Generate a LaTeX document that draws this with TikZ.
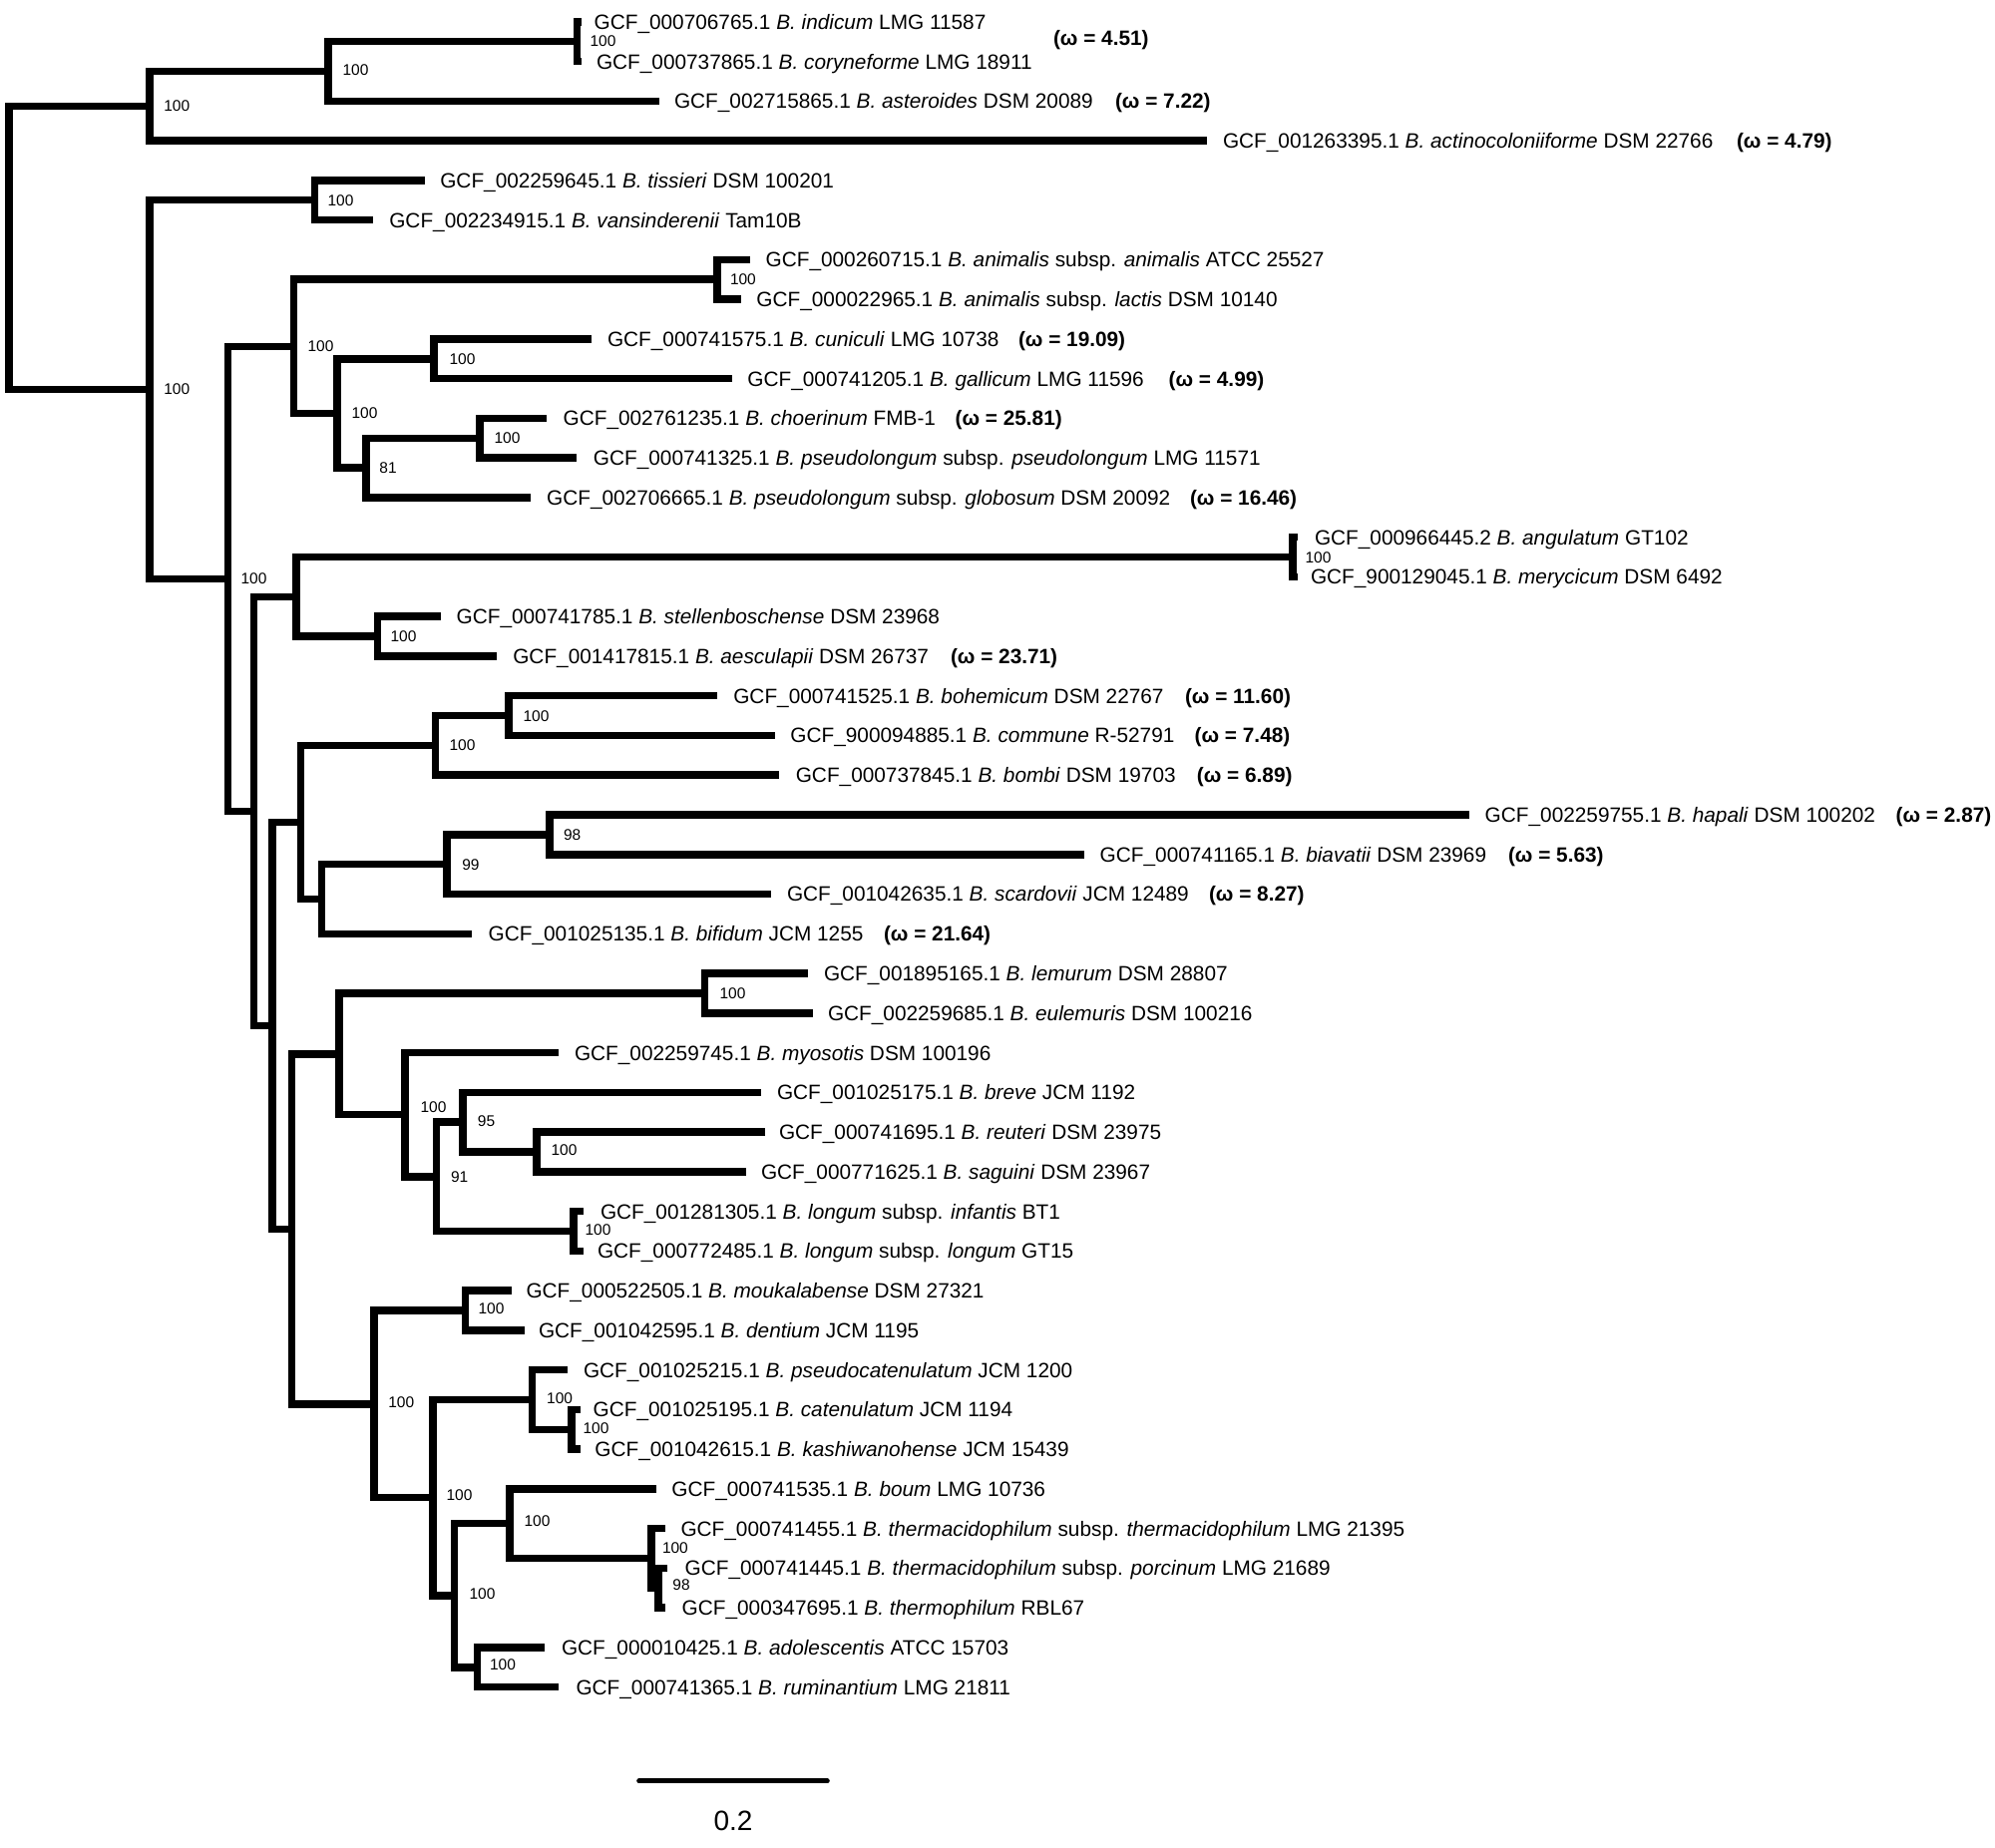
\documentclass[tikz,border=0pt]{standalone}
\usepackage{fontspec}
\setmainfont{Liberation Sans}
\newcommand\lfont{\fontsize{20.8}{25}\selectfont}
\newcommand\bfont{\fontsize{15.5}{18}\selectfont}
\newcommand\barfont{\fontsize{28}{32}\selectfont}
\newcommand\mkleaf[5]{\coordinate (#1) at (#2,#3); \node[lbl] (#1-t) at (#4,#3) {#5};}
\newcommand\mkom[4]{\node[oml] (#1) at (#2,#3) {(ω = #4)};}
\newcommand\mknode[3]{\coordinate (#1) at (#2,#3);}
\newcommand\mkbs[4]{\node[bsl] (#1) at (#2,#3) {#4};}
\newcommand\mkbr[3]{\draw[br] (#2) -| (#1) |- (#3);}
\begin{document}
\begin{tikzpicture}[x=1pt,y=-39.76pt,
  lbl/.style={anchor=base west, inner sep=0pt, outer sep=0pt, font=\lfont, yshift=-7.45pt},
  oml/.style={lbl, font=\lfont\bfseries},
  bsl/.style={anchor=base west, inner sep=0pt, outer sep=0pt, font=\bfont, yshift=-5.55pt},
  br/.style={line width=7.5pt, line join=miter}]
\useasboundingbox (0,0.4517) rectangle (2000,47.056);
% leaves
\mkleaf{l1}{583}{1}{595.6}{GCF\_000706765.1 \textit{B. indicum} LMG 11587}
\mkleaf{l2}{583}{2}{598}{GCF\_000737865.1 \textit{B. coryneforme} LMG 18911}
\mkleaf{l3}{660.7}{3}{676}{GCF\_002715865.1 \textit{B. asteroides} DSM 20089}
\mkleaf{l4}{1210}{4}{1226}{GCF\_001263395.1 \textit{B. actinocoloniiforme} DSM 22766}
\mkleaf{l5}{426}{5}{441.3}{GCF\_002259645.1 \textit{B. tissieri} DSM 100201}
\mkleaf{l6}{374}{6}{390.3}{GCF\_002234915.1 \textit{B. vansinderenii} Tam10B}
\mkleaf{l7}{752}{7}{767.6}{GCF\_000260715.1 \textit{B. animalis} subsp. \textit{animalis} ATCC 25527}
\mkleaf{l8}{743}{8}{758.4}{GCF\_000022965.1 \textit{B. animalis} subsp. \textit{lactis} DSM 10140}
\mkleaf{l9}{593}{9}{609}{GCF\_000741575.1 \textit{B. cuniculi} LMG 10738}
\mkleaf{l10}{734}{10}{749.4}{GCF\_000741205.1 \textit{B. gallicum} LMG 11596}
\mkleaf{l11}{548}{11}{564.6}{GCF\_002761235.1 \textit{B. choerinum} FMB-1}
\mkleaf{l12}{578}{12}{594.9}{GCF\_000741325.1 \textit{B. pseudolongum} subsp. \textit{pseudolongum} LMG 11571}
\mkleaf{l13}{532}{13}{548.1}{GCF\_002706665.1 \textit{B. pseudolongum} subsp. \textit{globosum} DSM 20092}
\mkleaf{l14}{1301}{14}{1318}{GCF\_000966445.2 \textit{B. angulatum} GT102}
\mkleaf{l15}{1301}{15}{1314}{GCF\_900129045.1 \textit{B. merycicum} DSM 6492}
\mkleaf{l16}{442}{16}{457.6}{GCF\_000741785.1 \textit{B. stellenboschense} DSM 23968}
\mkleaf{l17}{497.8}{17}{514.3}{GCF\_001417815.1 \textit{B. aesculapii} DSM 26737}
\mkleaf{l18}{718.75}{18}{735.3}{GCF\_000741525.1 \textit{B. bohemicum} DSM 22767}
\mkleaf{l19}{776.8}{19}{792.4}{GCF\_900094885.1 \textit{B. commune} R-52791}
\mkleaf{l20}{781}{20}{797.8}{GCF\_000737845.1 \textit{B. bombi} DSM 19703}
\mkleaf{l21}{1472.5}{21}{1488.7}{GCF\_002259755.1 \textit{B. hapali} DSM 100202}
\mkleaf{l22}{1087}{22}{1102.7}{GCF\_000741165.1 \textit{B. biavatii} DSM 23969}
\mkleaf{l23}{773}{23}{789}{GCF\_001042635.1 \textit{B. scardovii} JCM 12489}
\mkleaf{l24}{473}{24}{489.7}{GCF\_001025135.1 \textit{B. bifidum} JCM 1255}
\mkleaf{l25}{810}{25}{826}{GCF\_001895165.1 \textit{B. lemurum} DSM 28807}
\mkleaf{l26}{814.7}{26}{830}{GCF\_002259685.1 \textit{B. eulemuris} DSM 100216}
\mkleaf{l27}{560}{27}{576}{GCF\_002259745.1 \textit{B. myosotis} DSM 100196}
\mkleaf{l28}{763}{28}{779}{GCF\_001025175.1 \textit{B. breve} JCM 1192}
\mkleaf{l29}{767}{29}{781}{GCF\_000741695.1 \textit{B. reuteri} DSM 23975}
\mkleaf{l30}{748}{30}{763}{GCF\_000771625.1 \textit{B. saguini} DSM 23967}
\mkleaf{l31}{585}{31}{602}{GCF\_001281305.1 \textit{B. longum} subsp. \textit{infantis} BT1}
\mkleaf{l32}{585}{32}{599}{GCF\_000772485.1 \textit{B. longum} subsp. \textit{longum} GT15}
\mkleaf{l33}{512.6}{33}{527.5}{GCF\_000522505.1 \textit{B. moukalabense} DSM 27321}
\mkleaf{l34}{526}{34}{540}{GCF\_001042595.1 \textit{B. dentium} JCM 1195}
\mkleaf{l35}{569}{35}{585}{GCF\_001025215.1 \textit{B. pseudocatenulatum} JCM 1200}
\mkleaf{l36}{582}{36}{594.7}{GCF\_001025195.1 \textit{B. catenulatum} JCM 1194}
\mkleaf{l37}{582}{37}{596.4}{GCF\_001042615.1 \textit{B. kashiwanohense} JCM 15439}
\mkleaf{l38}{658}{38}{673.4}{GCF\_000741535.1 \textit{B. boum} LMG 10736}
\mkleaf{l39}{666.5}{39}{682.5}{GCF\_000741455.1 \textit{B. thermacidophilum} subsp. \textit{thermacidophilum} LMG 21395}
\mkleaf{l40}{669}{40}{686.6}{GCF\_000741445.1 \textit{B. thermacidophilum} subsp. \textit{porcinum} LMG 21689}
\mkleaf{l41}{666.5}{41}{683.7}{GCF\_000347695.1 \textit{B. thermophilum} RBL67}
\mkleaf{l42}{546}{42}{563}{GCF\_000010425.1 \textit{B. adolescentis} ATCC 15703}
\mkleaf{l43}{560}{43}{577.5}{GCF\_000741365.1 \textit{B. ruminantium} LMG 21811}
% omega values
\mkom{w1}{1056}{1.4}{4.51}
\mkom{w3}{1118}{3}{7.22}
\mkom{w4}{1741}{4}{4.79}
\mkom{w9}{1021}{9}{19.09}
\mkom{w10}{1171.7}{10}{4.99}
\mkom{w11}{957.6}{11}{25.81}
\mkom{w13}{1193}{13}{16.46}
\mkom{w17}{953}{17}{23.71}
\mkom{w18}{1188}{18}{11.60}
\mkom{w19}{1197.7}{19}{7.48}
\mkom{w20}{1199.9}{20}{6.89}
\mkom{w21}{1900.7}{21}{2.87}
\mkom{w22}{1512}{22}{5.63}
\mkom{w23}{1212}{23}{8.27}
\mkom{w24}{886}{24}{21.64}
% internal nodes
\mknode{root}{8.9}{6.6995}
\mknode{A}{150}{3.125}
\mknode{B}{329}{2.25}
\mknode{C}{578.5}{1.5}
\mknode{D}{150}{10.2739}
\mknode{E}{315.6}{5.5}
\mknode{F}{228.6}{15.0479}
\mknode{G}{294.6}{9.1875}
\mknode{H}{718.75}{7.5}
\mknode{I}{338}{10.875}
\mknode{J}{435}{9.5}
\mknode{K}{367}{12.25}
\mknode{L}{481}{11.5}
\mknode{M}{254.5}{20.9082}
\mknode{N}{297}{15.5}
\mknode{O}{1296}{14.5}
\mknode{P}{378.6}{16.5}
\mknode{Q}{273.2}{26.3164}
\mknode{R}{301.3}{21.1875}
\mknode{S}{436.6}{19.25}
\mknode{T}{510}{18.5}
\mknode{U}{322.3}{23.125}
\mknode{V}{447.8}{22.25}
\mknode{W}{551}{21.5}
\mknode{X}{292.4}{31.4453}
\mknode{Y}{340}{27.03125}
\mknode{Z}{706.7}{25.5}
\mknode{AA}{406}{28.5625}
\mknode{AB}{437.5}{30.125}
\mknode{AC}{464}{28.75}
\mknode{AD}{538}{29.5}
\mknode{AE}{575}{31.5}
\mknode{AF}{375}{35.859375}
\mknode{AG}{466.5}{33.5}
\mknode{AH}{434}{38.21875}
\mknode{AI}{533.5}{35.75}
\mknode{AJ}{573}{36.5}
\mknode{AK}{455.4}{40.6875}
\mknode{AL}{511}{38.875}
\mknode{AM}{653}{39.75}
\mknode{AN}{660}{40.5}
\mknode{AO}{478.6}{42.5}
% branches
\mkbr{C}{l1}{l2}
\mkbr{B}{C}{l3}
\mkbr{A}{B}{l4}
\mkbr{E}{l5}{l6}
\mkbr{H}{l7}{l8}
\mkbr{J}{l9}{l10}
\mkbr{L}{l11}{l12}
\mkbr{K}{L}{l13}
\mkbr{I}{J}{K}
\mkbr{G}{H}{I}
\mkbr{O}{l14}{l15}
\mkbr{P}{l16}{l17}
\mkbr{N}{O}{P}
\mkbr{T}{l18}{l19}
\mkbr{S}{T}{l20}
\mkbr{W}{l21}{l22}
\mkbr{V}{W}{l23}
\mkbr{U}{V}{l24}
\mkbr{R}{S}{U}
\mkbr{Z}{l25}{l26}
\mkbr{AD}{l29}{l30}
\mkbr{AC}{l28}{AD}
\mkbr{AE}{l31}{l32}
\mkbr{AB}{AC}{AE}
\mkbr{AA}{l27}{AB}
\mkbr{Y}{Z}{AA}
\mkbr{AG}{l33}{l34}
\mkbr{AJ}{l36}{l37}
\mkbr{AI}{l35}{AJ}
\mkbr{AN}{l40}{l41}
\mkbr{AM}{l39}{AN}
\mkbr{AL}{l38}{AM}
\mkbr{AO}{l42}{l43}
\mkbr{AK}{AL}{AO}
\mkbr{AH}{AI}{AK}
\mkbr{AF}{AG}{AH}
\mkbr{X}{Y}{AF}
\mkbr{Q}{R}{X}
\mkbr{M}{N}{Q}
\mkbr{F}{G}{M}
\mkbr{D}{E}{F}
\mkbr{root}{A}{D}
% bootstrap values
\mkbs{bA}{164.3}{3.125}{100}
\mkbs{bB}{343.6}{2.22}{100}
\mkbs{bC}{591.6}{1.47}{100}
\mkbs{bD}{164.3}{10.27}{100}
\mkbs{bE}{328.6}{5.5}{100}
\mkbs{bF}{241.6}{15.05}{100}
\mkbs{bG}{308.6}{9.19}{100}
\mkbs{bH}{732}{7.5}{100}
\mkbs{bI}{352.6}{10.875}{100}
\mkbs{bJ}{450.6}{9.5}{100}
\mkbs{bK}{380.4}{12.25}{81}
\mkbs{bL}{495.6}{11.5}{100}
\mkbs{bO}{1308.6}{14.52}{100}
\mkbs{bP}{391.6}{16.5}{100}
\mkbs{bS}{450.6}{19.25}{100}
\mkbs{bT}{524.6}{18.5}{100}
\mkbs{bV}{463.3}{22.25}{99}
\mkbs{bW}{565.1}{21.5}{98}
\mkbs{bZ}{721.6}{25.5}{100}
\mkbs{bAA}{421.6}{28.37}{100}
\mkbs{bAB}{452.1}{30.125}{91}
\mkbs{bAC}{478.9}{28.72}{95}
\mkbs{bAD}{552.6}{29.44}{100}
\mkbs{bAE}{586.6}{31.45}{100}
\mkbs{bAF}{389.3}{35.81}{100}
\mkbs{bAG}{479.6}{33.45}{100}
\mkbs{bAH}{447.6}{38.15}{100}
\mkbs{bAI}{548.2}{35.71}{100}
\mkbs{bAJ}{584.6}{36.46}{100}
\mkbs{bAK}{470.6}{40.63}{100}
\mkbs{bAL}{525.6}{38.8}{100}
\mkbs{bAM}{664}{39.48}{100}
\mkbs{bAN}{674.4}{40.42}{98}
\mkbs{bAO}{491.1}{42.42}{100}
% scale bar
\coordinate (sb1) at (640.7,45.37);
\coordinate (sb2) at (829.3,45.37);
\draw[line width=5pt, line cap=round] (sb1) -- (sb2);
\node[anchor=base, inner sep=0pt, font=\barfont, yshift=-10pt] (sbl) at (735,46.36) {0.2};
\end{tikzpicture}
\end{document}
